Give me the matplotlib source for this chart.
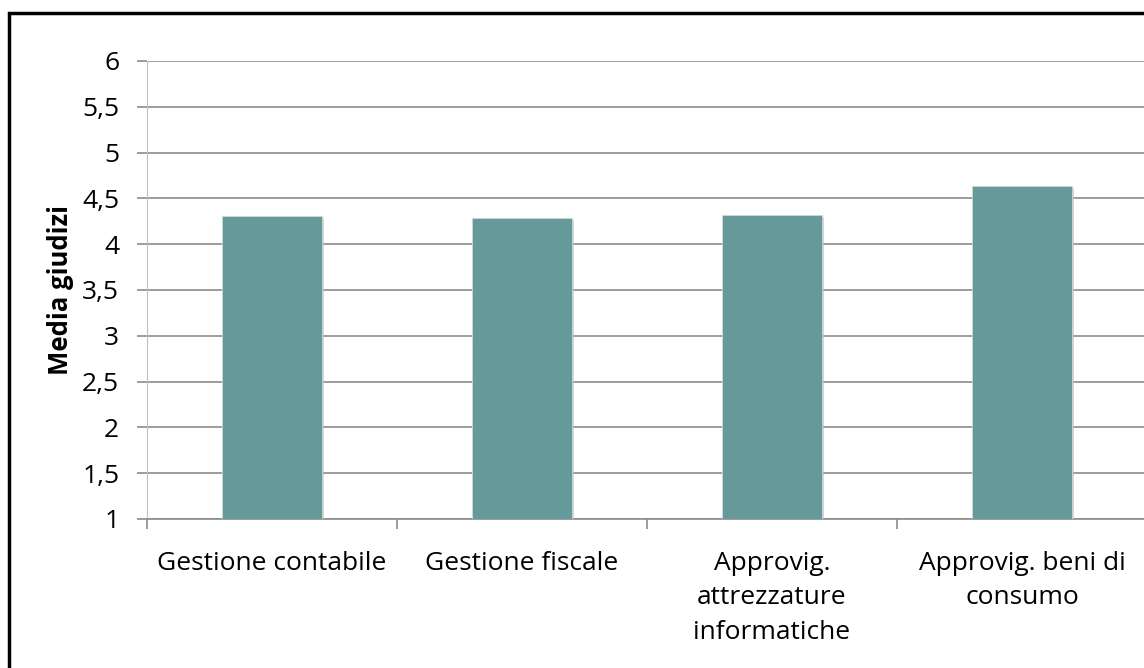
import matplotlib
matplotlib.use('Agg')
import matplotlib.pyplot as plt
import matplotlib.patheffects as pe
import numpy as np

plt.rcParams['font.family'] = ['Open Sans', 'DejaVu Sans']

# categorie e medie dei giudizi
categorie = ['Gestione contabile', 'Gestione fiscale',
             'Approvig.\nattrezzature\ninformatiche', 'Approvig. beni di\nconsumo']
medie = [4.305, 4.29, 4.32, 4.635]
yticks = [1, 1.5, 2, 2.5, 3, 3.5, 4, 4.5, 5, 5.5, 6]

W, H = 1144, 668
fig = plt.figure(figsize=(W / 100, H / 100), dpi=100)

# cornice nera del grafico
fig.patches.append(plt.Rectangle((9 / W, -0.1), 1.2, (668 - 13) / H + 0.1,
                                 transform=fig.transFigure, fill=False,
                                 edgecolor='black', lw=2.5))

ax = fig.add_axes([147 / W, (H - 519) / H, 1000 / W, 458 / H])
x = np.arange(len(categorie))
base = 1
ax.bar(x, np.array(medie) - base, bottom=base, width=0.4, color='#669999',
       edgecolor='#c9dada', linewidth=0.6, zorder=3,
       path_effects=[pe.SimplePatchShadow(offset=(1.5, -1.5), shadow_rgbFace='#bbbbbb', alpha=0.6),
                     pe.Normal()])

ax.set_xlim(-0.5, len(categorie) - 0.5)
ax.set_ylim(1, 6)
ax.set_yticks(yticks)
ax.set_yticklabels([('%g' % v).replace('.', ',') for v in yticks])
ax.yaxis.grid(True, color='#8c8c8c', lw=1.2, zorder=0)
ax.set_axisbelow(True)

for s in ['top', 'right']:
    ax.spines[s].set_visible(False)
ax.spines['left'].set_color('#bfbfbf')
ax.spines['bottom'].set_color('#8c8c8c')
ax.spines['bottom'].set_linewidth(1.2)

ax.tick_params(axis='y', length=7, color='#8c8c8c', width=1.2, pad=13, labelsize=19)
ax.set_xticks(x)
ax.set_xticklabels(categorie, fontsize=19, linespacing=1.5, va='top')
ax.tick_params(axis='x', length=0, pad=23)
ax.set_xticks(np.arange(len(categorie) + 1) - 0.5, minor=True)
ax.tick_params(axis='x', which='minor', length=7, color='#8c8c8c', width=1.2)

fig.text(60 / W, (H - 290) / H, 'Media giudizi', rotation=90, fontsize=18.5,
         fontweight='bold', ha='center', va='center')

fig.savefig('out.png', dpi=100)
